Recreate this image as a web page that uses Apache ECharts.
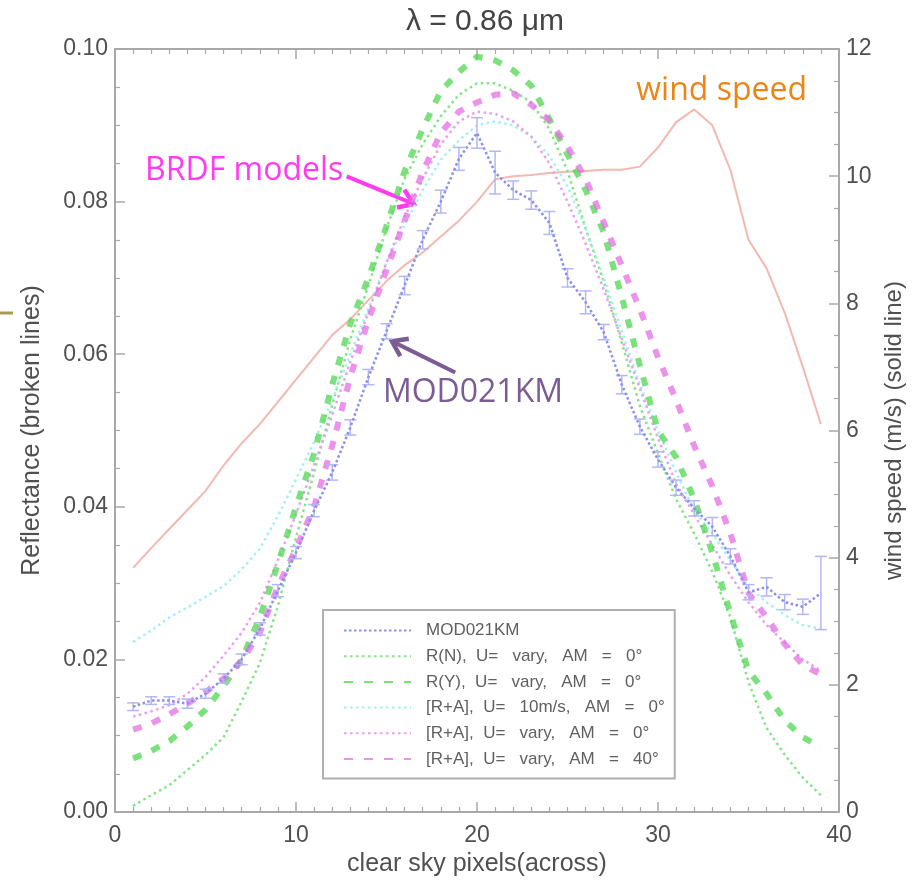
<!DOCTYPE html>
<html><head><meta charset="utf-8">
<script src="https://cdn.jsdelivr.net/npm/echarts@6/dist/echarts.min.js"></script>
<style>html,body{margin:0;padding:0;background:#fff}#c{width:916px;height:882px}</style>
</head><body><div id="c"></div>
<script>
// ---- data ----
const pixels = [1,2,3,4,5,6,7,8,9,10,11,12,13,14,15,16,17,18,19,20,21,22,23,24,25,26,27,28,29,30,31,32,33,34,35,36,37,38,39];
const mod021km = [0.0138,0.0146,0.0146,0.0142,0.0155,0.0175,0.0200,0.0240,0.0290,0.0340,0.0395,0.0445,0.0504,0.0570,0.0630,0.0690,0.0750,0.0800,0.0856,0.0890,0.0838,0.0815,0.0802,0.0772,0.0700,0.0668,0.0629,0.0560,0.0505,0.0462,0.0425,0.0398,0.0374,0.0335,0.0288,0.0295,0.0275,0.0269,0.0287];
const mod021kmErr = [0.0005,0.0005,0.0005,0.0006,0.0006,0.0006,0.0007,0.0008,0.0008,0.0008,0.0008,0.0010,0.0010,0.0010,0.0010,0.0012,0.0012,0.0015,0.0015,0.0020,0.0028,0.0012,0.0012,0.0015,0.0012,0.0015,0.0010,0.0012,0.0010,0.0010,0.0010,0.0010,0.0012,0.0010,0.0010,0.0012,0.0010,0.0010,0.0048];
const rN = [0.0008,0.0022,0.0035,0.0055,0.0075,0.0098,0.0145,0.0195,0.0270,0.0360,0.0445,0.0533,0.0620,0.0690,0.0765,0.0830,0.0875,0.0912,0.0940,0.0955,0.0955,0.0945,0.0930,0.0895,0.0840,0.0765,0.0695,0.0615,0.0532,0.0470,0.0410,0.0365,0.0315,0.0255,0.0170,0.0110,0.0075,0.0045,0.0022];
const rY = [0.0070,0.0080,0.0093,0.0112,0.0134,0.0165,0.0200,0.0255,0.0325,0.0400,0.0470,0.0560,0.0640,0.0700,0.0768,0.0840,0.0895,0.0945,0.0970,0.0990,0.0985,0.0972,0.0952,0.0908,0.0862,0.0815,0.0760,0.0675,0.0585,0.0500,0.0465,0.0410,0.0340,0.0260,0.0185,0.0155,0.0120,0.0098,0.0085];
const ra10 = [0.0223,0.0238,0.0255,0.0268,0.0282,0.0296,0.0318,0.0345,0.0388,0.0436,0.0485,0.0540,0.0600,0.0660,0.0720,0.0770,0.0815,0.0855,0.0880,0.0900,0.0905,0.0900,0.0885,0.0860,0.0820,0.0765,0.0700,0.0630,0.0560,0.0500,0.0445,0.0395,0.0365,0.0330,0.0295,0.0275,0.0258,0.0245,0.0240];
const raVary0 = [0.0125,0.0132,0.0140,0.0155,0.0177,0.0205,0.0235,0.0274,0.0330,0.0390,0.0455,0.0520,0.0590,0.0655,0.0720,0.0780,0.0830,0.0875,0.0905,0.0918,0.0915,0.0905,0.0885,0.0850,0.0800,0.0745,0.0685,0.0620,0.0555,0.0490,0.0430,0.0390,0.0350,0.0310,0.0275,0.0245,0.0222,0.0200,0.0185];
const raVary40 = [0.0108,0.0116,0.0128,0.0142,0.0157,0.0175,0.0198,0.0235,0.0295,0.0345,0.0400,0.0480,0.0570,0.0645,0.0710,0.0775,0.0839,0.0890,0.0918,0.0930,0.0940,0.0942,0.0927,0.0906,0.0872,0.0830,0.0773,0.0716,0.0659,0.0596,0.0540,0.0480,0.0427,0.0365,0.0287,0.0255,0.0220,0.0193,0.0180];
const windSpeed = [3.84,4.15,4.45,4.75,5.05,5.45,5.80,6.10,6.45,6.80,7.15,7.50,7.75,8.05,8.35,8.60,8.80,9.05,9.30,9.60,9.95,10.00,10.02,10.05,10.07,10.08,10.10,10.10,10.15,10.45,10.85,11.05,10.80,10.10,9.00,8.55,7.85,7.00,6.10];
const seriesNames = ['MOD021KM','R(N),  U=   vary,   AM   =   0°','R(Y),  U=   vary,   AM   =   0°','[R+A],  U=   10m/s,   AM   =   0°','[R+A],  U=   vary,   AM   =   0°','[R+A],  U=   vary,   AM   =   40°'];
const titleText = 'λ = 0.86 μm';
const xName = 'clear sky pixels(across)';
const yLeftName = 'Reflectance (broken lines)';
const yRightName = 'wind speed (m/s) (solid line)';
// annotation anchors in data coordinates (x, reflectance)
const noteBRDF = {text:'BRDF models', at:[1.66,0.0840], from:[12.8,0.0833], to:[16.5,0.0797]};
const noteMOD = {text:'MOD021KM', at:[14.8,0.0549], from:[18.8,0.0576], to:[15.3,0.0617]};
const noteWind = {text:'wind speed', at:[28.8,0.0945]};

// ---- chart ----
const pairs = arr => pixels.map((x,i)=>[x, arr[i]]);
const FONT = 'Liberation Sans';
const AX = '#a8a8a8', LBL = '#505050';
const chart = echarts.init(document.getElementById('c'), null, {renderer:'canvas'});

function lineSeries(name, arr, color, type, width, yIdx, z){
  return {name, type:'line', data:pairs(arr), xAxisIndex:0, yAxisIndex:yIdx||0,
    showSymbol:false, symbol:'none', smooth:false, z:z||2,
    lineStyle:{color, type, width, cap:'butt'}, itemStyle:{color}, emphasis:{disabled:true}};
}
const axCommon = {
  axisLine:{show:true, onZero:false, lineStyle:{color:AX, width:2}},
  axisTick:{show:true, inside:true, length:10, lineStyle:{color:AX, width:1.5}},
  minorTick:{show:true, length:5, lineStyle:{color:AX, width:1.2}},
  splitLine:{show:false},
  axisLabel:{fontFamily:FONT, fontSize:23, color:LBL},
  nameTextStyle:{fontFamily:FONT, fontSize:25, color:LBL}
};

const option = {
  backgroundColor:'#fff',
  animation:false,
  grid:{left:115, right:77, top:49, bottom:70, containLabel:false},
  legend:{
    orient:'vertical', left:323, top:610, selectedMode:false,
    data: seriesNames,
    itemWidth:67, itemHeight:14, itemGap:8.7,
    padding:[12,10,11,20],
    borderColor:'#b0b0b0', borderWidth:2,
    itemStyle:{opacity:0},
    textStyle:{fontFamily:FONT, fontSize:17, color:'#606060', lineHeight:16, padding:[0,0,0,10]}
  },
  xAxis:[
    Object.assign({}, axCommon, {type:'value', min:0, max:40, interval:10, position:'bottom',
      minorTick:Object.assign({}, axCommon.minorTick, {splitNumber:10}),
      axisLabel:Object.assign({}, axCommon.axisLabel, {margin:12}),
      name:xName, nameLocation:'middle', nameGap:38}),
    Object.assign({}, axCommon, {type:'value', min:0, max:40, interval:10, position:'top',
      minorTick:Object.assign({}, axCommon.minorTick, {splitNumber:10}),
      axisLabel:{show:false}})
  ],
  yAxis:[
    Object.assign({}, axCommon, {type:'value', min:0, max:0.1, interval:0.02, position:'left',
      minorTick:Object.assign({}, axCommon.minorTick, {splitNumber:4}),
      axisLabel:Object.assign({}, axCommon.axisLabel, {margin:7, formatter:v=>v.toFixed(2)}),
      name:yLeftName, nameLocation:'middle', nameGap:70}),
    Object.assign({}, axCommon, {type:'value', min:0, max:12, interval:2, position:'right',
      minorTick:Object.assign({}, axCommon.minorTick, {splitNumber:4}),
      axisLabel:Object.assign({}, axCommon.axisLabel, {margin:7}),
      name:yRightName, nameLocation:'middle', nameGap:32, nameRotate:90,
      nameTextStyle:Object.assign({}, axCommon.nameTextStyle, {fontSize:24})})
  ],
  series:[
    lineSeries('wind', windSpeed, '#f3b9b0', 'solid', 2, 1, 1),
    lineSeries(seriesNames[1], rN, '#86e486', [2.5,3.5], 2.5),
    lineSeries(seriesNames[3], ra10, '#a4f0f0', [2.5,3.5], 2.5),
    lineSeries(seriesNames[4], raVary0, '#e6a0f0', [2.5,3.5], 2.5),
    lineSeries(seriesNames[2], rY, 'rgba(80,215,80,0.75)', [9,11], 6),
    lineSeries(seriesNames[5], raVary40, 'rgba(228,110,228,0.75)', [9,11], 6),
    lineSeries(seriesNames[0], mod021km, '#8a90f0', [2.5,2.5], 2.5, 0, 3),
    {type:'custom', name:'err', xAxisIndex:0, yAxisIndex:0, z:3,
      data: pixels.map((x,i)=>[x, mod021km[i]-mod021kmErr[i], mod021km[i]+mod021kmErr[i]]),
      encode:{x:0, y:[1,2]},
      renderItem:(params, api)=>{
        const x = api.value(0);
        const a = api.coord([x, api.value(2)]), b = api.coord([x, api.value(1)]);
        const hw = 6, st = {stroke:'#b3b7f4', lineWidth:1.5};
        return {type:'group', children:[
          {type:'line', shape:{x1:a[0],y1:a[1],x2:b[0],y2:b[1]}, style:st},
          {type:'line', shape:{x1:a[0]-hw,y1:a[1],x2:a[0]+hw,y2:a[1]}, style:st},
          {type:'line', shape:{x1:b[0]-hw,y1:b[1],x2:b[0]+hw,y2:b[1]}, style:st}
        ]};
      }}
  ]
};
chart.setOption(option);

// annotations placed via the axes' own conversion
const toPx = p => chart.convertToPixel({xAxisIndex:0, yAxisIndex:0}, p);
function arrow(from, to, color){
  const f = toPx(from), t = toPx(to);
  const dx = f[0]-t[0], dy = f[1]-t[1], L = Math.hypot(dx,dy);
  const ux = dx/L, uy = dy/L, len = 17, ang = 0.6;
  const r = (s)=>[t[0] + len*(ux*Math.cos(s*ang) - uy*Math.sin(s*ang)), t[1] + len*(ux*Math.sin(s*ang) + uy*Math.cos(s*ang))];
  return [
    {type:'line', shape:{x1:f[0],y1:f[1],x2:t[0]+ux*2,y2:t[1]+uy*2}, style:{stroke:color, lineWidth:4}},
    {type:'polyline', shape:{points:[r(1), t, r(-1)]}, style:{stroke:color, lineWidth:4.5, fill:null, lineJoin:'miter'}}
  ];
}
function note(n, color){
  const p = toPx(n.at);
  return {type:'text', x:p[0], y:p[1], style:{text:n.text, fill:color, font:'32px "Open Sans"', textAlign:'left', textVerticalAlign:'middle'}};
}
chart.setOption({graphic:[
  {type:'text', x:485, y:22, style:{text:titleText, fill:'#444', font:'30px "Liberation Sans"', textAlign:'center', textVerticalAlign:'middle'}},
  note(noteBRDF, '#ff3cf0'),
  note(noteMOD, '#7b5c94'),
  note(noteWind, '#ec8516'),
  ...arrow(noteBRDF.from, noteBRDF.to, '#ff3cf0'),
  ...arrow(noteMOD.from, noteMOD.to, '#7b5c94'),
  {type:'line', shape:{x1:0,y1:313,x2:13,y2:313}, style:{stroke:'#a89a50', lineWidth:3}}
]});
</script>
</body></html>
